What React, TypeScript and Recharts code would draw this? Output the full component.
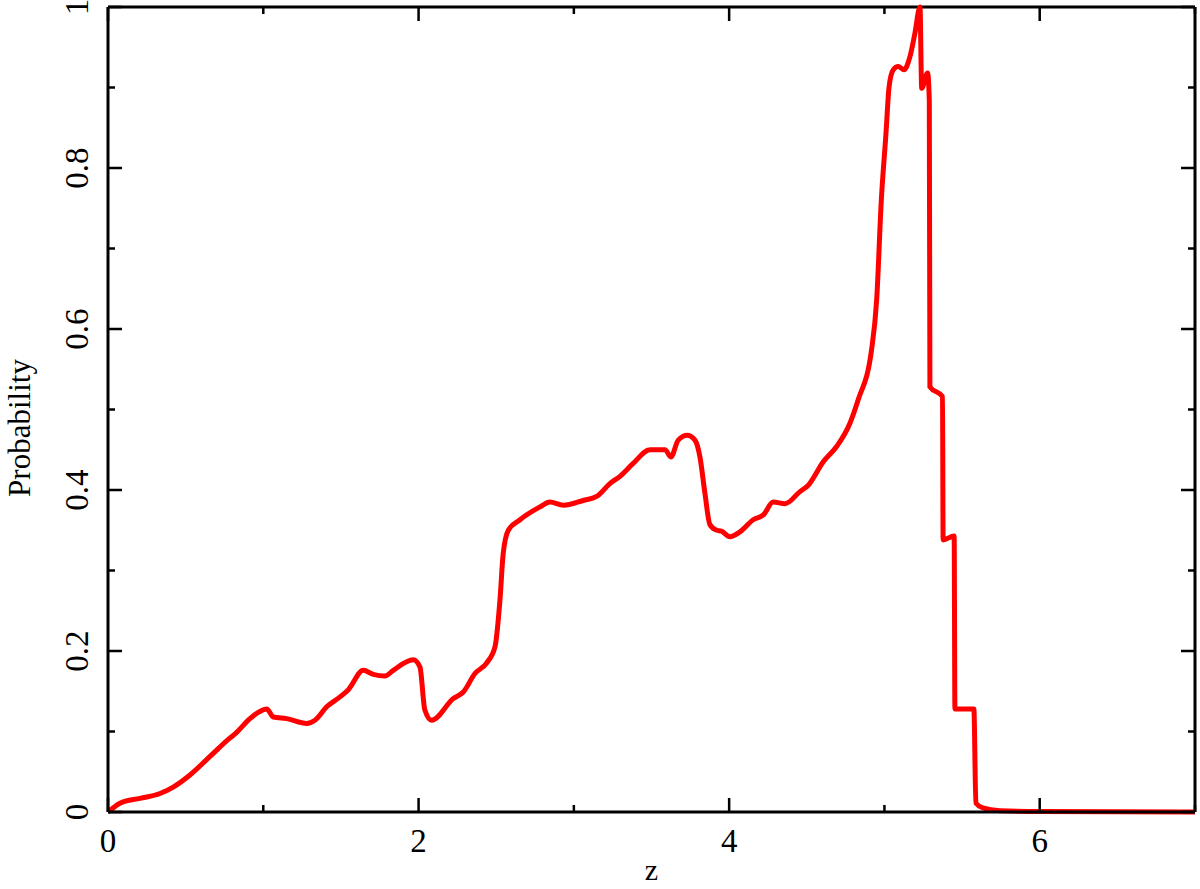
import { LineChart, Line, XAxis, YAxis, ReferenceLine } from "recharts";

// redshift grid and probability
const zValues = [
  0, 0.013, 0.077, 0.206, 0.335, 0.42, 0.528, 0.657, 0.786, 0.818, 0.914, 0.97,
  1.022, 1.065, 1.15, 1.28, 1.333, 1.41, 1.494, 1.548, 1.644, 1.708, 1.784, 1.837,
  1.966, 2.009, 2.04, 2.084, 2.224, 2.288, 2.363, 2.438, 2.492, 2.524, 2.545, 2.578,
  2.653, 2.782, 2.846, 2.932, 3.06, 3.147, 3.232, 3.297, 3.382, 3.49, 3.587, 3.625,
  3.672, 3.73, 3.78, 3.812, 3.844, 3.876, 3.92, 3.95, 4.005, 4.07, 4.155, 4.22,
  4.284, 4.36, 4.456, 4.51, 4.606, 4.692, 4.778, 4.831, 4.917, 4.95, 4.98, 5.01,
  5.03, 5.057, 5.089, 5.126, 5.164, 5.196, 5.229, 5.24, 5.278, 5.289, 5.293, 5.374,
  5.378, 5.449, 5.454, 5.576, 5.589, 5.634, 5.744, 6, 7,
];
const probValues = [
  0, 0.002, 0.011, 0.017, 0.023, 0.031, 0.046, 0.069, 0.092, 0.097, 0.116, 0.124,
  0.128, 0.118, 0.116, 0.11, 0.114, 0.131, 0.143, 0.152, 0.176, 0.171, 0.169, 0.176,
  0.189, 0.18, 0.127, 0.114, 0.141, 0.149, 0.172, 0.185, 0.205, 0.263, 0.321, 0.35,
  0.363, 0.379, 0.385, 0.381, 0.387, 0.392, 0.408, 0.417, 0.433, 0.45, 0.45, 0.441,
  0.462, 0.468, 0.462, 0.441, 0.396, 0.357, 0.35, 0.349, 0.342, 0.348, 0.363, 0.369,
  0.385, 0.383, 0.398, 0.406, 0.435, 0.454, 0.483, 0.512, 0.574, 0.636, 0.76, 0.843,
  0.901, 0.922, 0.926, 0.922, 0.938, 0.967, 1.0, 0.899, 0.918, 0.884, 0.528, 0.516,
  0.338, 0.343, 0.128, 0.128, 0.011, 0.005, 0.0016, 0.0005, 0,
];

const xTicks = [0, 1, 2, 3, 4, 5, 6, 7];
const xLabels = [0, 2, 4, 6];
const yTicks = [0, 0.1, 0.2, 0.3, 0.4, 0.5, 0.6, 0.7, 0.8, 0.9, 1];
const yLabels = [0, 0.2, 0.4, 0.6, 0.8, 1];

const data = zValues.map((z, i) => ({ z, p: probValues[i] }));

const FONT = "'Liberation Serif', 'DejaVu Serif', serif";
const MAJOR = 14;
const MINOR = 7;

// frame edges (set by the margins / axis sizes below)
const W = 1200;
const H = 889;
const LEFT = 108;
const RIGHT = 1195;
const TOP = 7;
const BOTTOM = 812;

// bottom tick + mirrored tick on the top edge
function XTick({ x, payload }: any) {
  const major = xLabels.includes(payload.value);
  const len = major ? MAJOR : MINOR;
  return (
    <g>
      <path d={`M${x},${BOTTOM}V${BOTTOM - len}M${x},${TOP}V${TOP + len}`} stroke="#000" strokeWidth={2.5} fill="none" />
      {major && (
        <text x={x} y={BOTTOM + 40} textAnchor="middle" fontFamily={FONT} fontSize={33} fill="#000">
          {payload.value}
        </text>
      )}
    </g>
  );
}

// left tick + mirrored tick on the right edge
function YTick({ y, payload }: any) {
  const major = yLabels.some((v) => Math.abs(v - payload.value) < 1e-6);
  const len = major ? MAJOR : MINOR;
  const lx = LEFT - 20;
  return (
    <g>
      <path d={`M${LEFT},${y}H${LEFT + len}M${RIGHT},${y}H${RIGHT - len}`} stroke="#000" strokeWidth={2.5} fill="none" />
      {major && (
        <text
          x={lx}
          y={y}
          textAnchor="middle"
          fontFamily={FONT}
          fontSize={33}
          fill="#000"
          transform={`rotate(-90, ${lx}, ${y})`}
        >
          {payload.value}
        </text>
      )}
    </g>
  );
}

export default function App() {
  return (
    <div style={{ position: "absolute", left: 0, top: 0, background: "#fff" }}>
      <LineChart
        width={W}
        height={H}
        data={data}
        margin={{ top: TOP, right: W - RIGHT, bottom: 0, left: 0 }}
      >
        <XAxis
          dataKey="z"
          type="number"
          domain={[0, 7]}
          ticks={xTicks}
          interval={0}
          height={H - BOTTOM}
          tickLine={false}
          axisLine={{ stroke: "#000", strokeWidth: 3 }}
          tick={(props: any) => <XTick {...props} />}
          label={{
            content: () => (
              <text x={(LEFT + RIGHT) / 2} y={880} textAnchor="middle" fontFamily={FONT} fontSize={30} fill="#000">
                z
              </text>
            ),
          }}
        />
        <YAxis
          type="number"
          domain={[0, 1]}
          ticks={yTicks}
          interval={0}
          width={LEFT}
          tickLine={false}
          axisLine={{ stroke: "#000", strokeWidth: 3 }}
          tick={(props: any) => <YTick {...props} />}
          label={{
            content: () => (
              <text
                x={30}
                y={428}
                textAnchor="middle"
                fontFamily={FONT}
                fontSize={31}
                fill="#000"
                transform="rotate(-90, 30, 428)"
              >
                Probability
              </text>
            ),
          }}
        />
        <ReferenceLine y={1} stroke="#000" strokeWidth={3} />
        <ReferenceLine x={7} stroke="#000" strokeWidth={3} />
        <Line
          type="monotone"
          dataKey="p"
          stroke="#ff0000"
          strokeWidth={5}
          dot={false}
          isAnimationActive={false}
        />
      </LineChart>
    </div>
  );
}
